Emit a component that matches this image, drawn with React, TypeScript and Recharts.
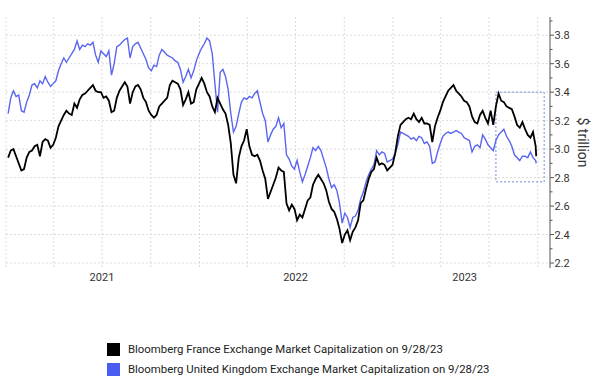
import React from 'react';
import { LineChart, Line, XAxis, YAxis, CartesianGrid, ReferenceArea } from 'recharts';

const dates = [
  '2021-01-05','2021-01-10','2021-01-15','2021-01-20','2021-01-25','2021-01-30','2021-02-04','2021-02-09','2021-02-14','2021-02-19',
  '2021-02-24','2021-03-01','2021-03-06','2021-03-11','2021-03-16','2021-03-21','2021-03-26','2021-03-31','2021-04-05','2021-04-10',
  '2021-04-15','2021-04-20','2021-04-25','2021-04-30','2021-05-05','2021-05-10','2021-05-15','2021-05-20','2021-05-25','2021-05-30',
  '2021-06-04','2021-06-09','2021-06-14','2021-06-19','2021-06-24','2021-06-29','2021-07-04','2021-07-09','2021-07-14','2021-07-19',
  '2021-07-24','2021-07-29','2021-08-03','2021-08-08','2021-08-13','2021-08-18','2021-08-23','2021-08-28','2021-09-02','2021-09-07',
  '2021-09-12','2021-09-17','2021-09-22','2021-09-27','2021-10-02','2021-10-07','2021-10-12','2021-10-17','2021-10-22','2021-10-27',
  '2021-11-01','2021-11-06','2021-11-11','2021-11-16','2021-11-21','2021-11-26','2021-12-01','2021-12-06','2021-12-11','2021-12-16',
  '2021-12-21','2021-12-26','2021-12-31',
  '2022-01-05','2022-01-10','2022-01-15','2022-01-20','2022-01-25','2022-01-30','2022-02-04','2022-02-09','2022-02-14','2022-02-19',
  '2022-02-24','2022-03-01','2022-03-06','2022-03-11','2022-03-16','2022-03-21','2022-03-26','2022-03-31','2022-04-05','2022-04-10',
  '2022-04-15','2022-04-20','2022-04-25','2022-04-30','2022-05-05','2022-05-10','2022-05-15','2022-05-20','2022-05-25','2022-05-30',
  '2022-06-04','2022-06-09','2022-06-14','2022-06-19','2022-06-24','2022-06-29','2022-07-04','2022-07-09','2022-07-14','2022-07-19',
  '2022-07-24','2022-07-29','2022-08-03','2022-08-08','2022-08-13','2022-08-18','2022-08-23','2022-08-28','2022-09-02','2022-09-07',
  '2022-09-12','2022-09-17','2022-09-22','2022-09-27','2022-10-02','2022-10-07','2022-10-12','2022-10-17','2022-10-22','2022-10-27',
  '2022-11-01','2022-11-06','2022-11-11','2022-11-16','2022-11-21','2022-11-26','2022-12-01','2022-12-06','2022-12-11','2022-12-16',
  '2022-12-21','2022-12-26','2022-12-31',
  '2023-01-05','2023-01-10','2023-01-15','2023-01-20','2023-01-25','2023-01-30','2023-02-04','2023-02-09','2023-02-14','2023-02-19',
  '2023-02-24','2023-03-01','2023-03-06','2023-03-11','2023-03-16','2023-03-21','2023-03-26','2023-03-31','2023-04-05','2023-04-10',
  '2023-04-15','2023-04-20','2023-04-25','2023-04-30','2023-05-05','2023-05-10','2023-05-15','2023-05-20','2023-05-25','2023-05-30',
  '2023-06-04','2023-06-09','2023-06-14','2023-06-19','2023-06-24','2023-06-29','2023-07-04','2023-07-09','2023-07-14','2023-07-19',
  '2023-07-24','2023-07-29','2023-08-03','2023-08-08','2023-08-13','2023-08-18','2023-08-23','2023-08-28','2023-09-02','2023-09-07',
  '2023-09-12','2023-09-17','2023-09-22','2023-09-27','2023-09-28',
];

const france = [
  2.94,2.99,3.00,2.95,2.90,2.85,2.86,2.94,2.98,2.99,
  3.02,3.03,2.95,3.05,3.07,3.06,3.01,3.03,3.08,3.16,
  3.20,3.24,3.27,3.25,3.24,3.32,3.29,3.35,3.38,3.39,
  3.41,3.43,3.45,3.41,3.40,3.40,3.36,3.37,3.34,3.26,
  3.27,3.36,3.41,3.44,3.47,3.44,3.32,3.40,3.44,3.45,
  3.42,3.36,3.33,3.27,3.24,3.22,3.24,3.30,3.32,3.34,
  3.36,3.45,3.48,3.47,3.46,3.42,3.31,3.35,3.40,3.32,
  3.33,3.42,3.46,3.50,3.46,3.40,3.37,3.30,3.26,3.36,
  3.32,3.28,3.25,3.17,3.04,2.82,2.76,2.94,3.02,3.06,
  3.14,3.02,2.96,2.95,2.96,2.92,2.85,2.79,2.65,2.70,
  2.75,2.80,2.87,2.85,2.84,2.62,2.57,2.61,2.58,2.50,
  2.54,2.52,2.58,2.64,2.66,2.75,2.79,2.82,2.79,2.76,
  2.71,2.63,2.58,2.56,2.51,2.44,2.34,2.40,2.43,2.36,
  2.42,2.45,2.50,2.62,2.64,2.72,2.79,2.84,2.86,2.94,
  2.89,2.90,2.89,2.85,2.87,2.89,2.97,3.09,3.17,3.19,
  3.21,3.22,3.21,3.25,3.21,3.19,3.22,3.18,3.18,3.17,
  3.05,3.16,3.22,3.27,3.33,3.37,3.41,3.43,3.45,3.41,
  3.39,3.37,3.34,3.33,3.30,3.23,3.19,3.18,3.24,3.27,
  3.22,3.18,3.27,3.17,3.30,3.39,3.34,3.33,3.30,3.29,
  3.28,3.23,3.17,3.15,3.19,3.14,3.10,3.08,3.12,3.02,
  2.95,
];

const uk = [
  3.25,3.36,3.41,3.37,3.38,3.27,3.26,3.33,3.38,3.45,
  3.46,3.43,3.48,3.46,3.51,3.47,3.44,3.46,3.48,3.55,
  3.60,3.64,3.61,3.64,3.67,3.70,3.76,3.70,3.73,3.72,
  3.74,3.73,3.75,3.66,3.61,3.69,3.67,3.65,3.69,3.52,
  3.60,3.72,3.73,3.75,3.77,3.78,3.64,3.72,3.74,3.75,
  3.71,3.67,3.63,3.57,3.55,3.59,3.58,3.66,3.70,3.68,
  3.66,3.65,3.64,3.62,3.61,3.56,3.47,3.51,3.56,3.50,
  3.55,3.62,3.67,3.71,3.74,3.78,3.76,3.67,3.46,3.26,
  3.54,3.56,3.51,3.42,3.25,3.12,3.16,3.25,3.33,3.36,
  3.35,3.37,3.36,3.39,3.41,3.33,3.25,3.20,3.05,3.10,
  3.14,3.16,3.22,3.15,3.18,2.96,2.93,2.88,2.86,2.92,
  2.84,2.77,2.82,2.88,2.94,3.01,2.99,3.02,2.99,2.93,
  2.87,2.79,2.73,2.75,2.71,2.62,2.48,2.55,2.52,2.45,
  2.52,2.53,2.57,2.65,2.70,2.77,2.82,2.86,2.89,2.99,
  2.96,2.98,2.97,2.91,2.92,2.93,2.97,3.03,3.12,3.11,
  3.10,3.09,3.07,3.08,3.06,3.09,3.08,3.04,3.05,3.02,
  2.90,2.91,2.98,3.04,3.09,3.11,3.12,3.11,3.12,3.13,
  3.12,3.11,3.08,3.07,3.06,2.98,3.02,3.03,3.01,3.10,
  3.07,3.03,3.01,2.99,3.06,3.10,3.12,3.14,3.09,3.06,
  3.02,2.96,2.94,2.92,2.95,2.95,2.94,2.98,2.94,2.92,
  2.90,
];

const yTicks = [2.2, 2.3, 2.4, 2.5, 2.6, 2.7, 2.8, 2.9, 3.0, 3.1, 3.2, 3.3, 3.4, 3.5, 3.6, 3.7, 3.8, 3.9];
const yGrid = [2.2, 2.4, 2.6, 2.8, 3.0, 3.2, 3.4, 3.6, 3.8];
const yDomain = [2.165, 3.928];
const quarterDates = [
  '2021-01-01','2021-04-01','2021-07-01','2021-10-01',
  '2022-01-01','2022-04-01','2022-07-01','2022-10-01',
  '2023-01-01','2023-04-01','2023-07-01','2023-10-01',
];
const yearLabelDates = ['2021-07-01', '2022-07-01', '2023-05-16'];
const xDomainDates = ['2021-01-01', '2023-10-24'];
const highlightDates = ['2023-07-14', '2023-10-13'];
const highlightValues = [2.77, 3.4];

const seriesNames = [
  'Bloomberg France Exchange Market Capitalization on 9/28/23',
  'Bloomberg United Kingdom Exchange Market Capitalization on 9/28/23',
];
const FR_COLOR = '#000000';
const UK_COLOR = '#5a66ef';
const LEGEND_UK = '#4b5cf2';

const ts = (d: string) => Date.parse(d + 'T00:00:00Z');
const rows = dates.map((d, i) => ({ t: ts(d), france: france[i], uk: uk[i] }));

const FONT = 'Roboto, "Noto Sans", Arial, sans-serif';

const YTick = (props: any) => {
  const { x, y, payload } = props;
  const v = payload.value as number;
  const major = Math.round(v * 10) % 2 === 0;
  return (
    <g>
      <line x1={x} x2={x + (major ? 4 : 2.5)} y1={y} y2={y} stroke="#555" strokeWidth={1} />
      {major && (
        <text x={x + 4.5} y={y} dy="0.36em" fontSize={11} fill="#333" fontFamily={FONT}>
          {v.toFixed(1)}
        </text>
      )}
    </g>
  );
};

const YLabel = (props: any) => {
  const vb = props.viewBox || {};
  const cx = (vb.x ?? 550) + 33;
  const cy = (vb.y ?? 17) + (vb.height ?? 251) / 2;
  return (
    <text
      x={cx}
      y={cy}
      transform={`rotate(90 ${cx} ${cy})`}
      textAnchor="middle"
      dominantBaseline="central"
      fontSize={14}
      fill="#333"
      fontFamily={FONT}
    >
      $ trillion
    </text>
  );
};

export default function App() {
  return (
    <div
      style={{
        position: 'absolute',
        left: 0,
        top: 0,
        width: 597,
        height: 387,
        background: '#fff',
        fontFamily: FONT,
      }}
    >
      <LineChart width={597} height={300} data={rows} margin={{ top: 17, right: 0, bottom: 8, left: 6 }}>
        <CartesianGrid
          stroke="#dcdcdc"
          strokeDasharray="2 2"
          horizontalValues={yGrid}
          verticalValues={quarterDates.map(ts)}
        />
        <XAxis
          dataKey="t"
          type="number"
          domain={xDomainDates.map(ts)}
          ticks={yearLabelDates.map(ts)}
          tickFormatter={(v: number) => String(new Date(v).getUTCFullYear())}
          axisLine={false}
          tickLine={false}
          tickSize={5}
          tickMargin={0}
          height={24}
          interval={0}
          allowDataOverflow
          tick={{ fontSize: 11, fill: '#333', fontFamily: FONT }}
        />
        <YAxis
          orientation="right"
          type="number"
          domain={yDomain}
          ticks={yTicks}
          interval={0}
          width={47}
          allowDataOverflow
          axisLine={{ stroke: '#555' }}
          tickLine={false}
          tickSize={0}
          tickMargin={0}
          tick={<YTick />}
          label={<YLabel />}
        />
        <Line
          type="linear"
          dataKey="uk"
          stroke={UK_COLOR}
          strokeWidth={1.4}
          dot={false}
          isAnimationActive={false}
        />
        <Line
          type="linear"
          dataKey="france"
          stroke={FR_COLOR}
          strokeWidth={1.8}
          dot={false}
          isAnimationActive={false}
        />
        <ReferenceArea
          x1={ts(highlightDates[0])}
          x2={ts(highlightDates[1])}
          y1={highlightValues[0]}
          y2={highlightValues[1]}
          fill="none"
          fillOpacity={0}
          stroke="#6b8fd6"
          strokeDasharray="2 2"
          strokeWidth={1}
          ifOverflow="visible"
        />
      </LineChart>
      <div style={{ position: 'absolute', left: 107, top: 339 }}>
        {seriesNames.map((name, i) => (
          <div key={name} style={{ display: 'flex', alignItems: 'center', height: 20 }}>
            <div
              style={{
                width: 13,
                height: 13,
                background: i === 0 ? FR_COLOR : LEGEND_UK,
                marginRight: 8,
                flex: 'none',
              }}
            />
            <span style={{ fontSize: 11.4, color: '#222', whiteSpace: 'nowrap' }}>{name}</span>
          </div>
        ))}
      </div>
    </div>
  );
}
